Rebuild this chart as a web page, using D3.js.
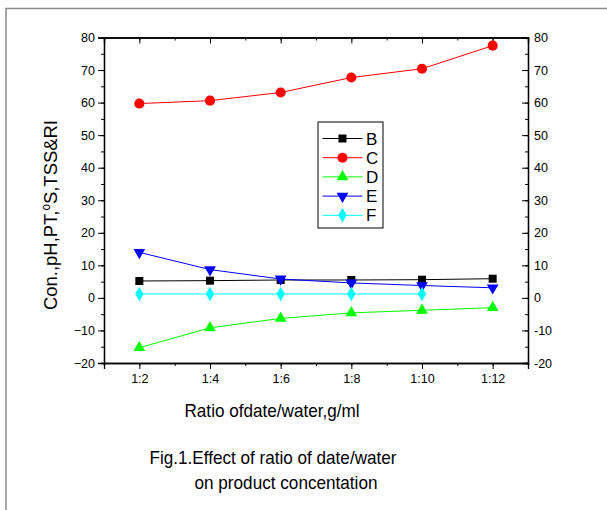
<!DOCTYPE html>
<html lang="en">
<head>
<meta charset="UTF-8">
<title>Effect of ratio of date/water</title>
<script src="https://cdn.jsdelivr.net/npm/d3@7/dist/d3.min.js"></script>
<style>
  body { margin: 0; background: #fff; }
  text { font-family: "Liberation Sans", Arial, sans-serif; fill: #000; }
</style>
</head>
<body>
<svg id="chart" width="607" height="510"></svg>
<script>
// data
var ratios = ["1:2", "1:4", "1:6", "1:8", "1:10", "1:12"];
var xPos = [2, 4, 6, 8, 10, 12];
var seriesB = [5.2, 5.3, 5.5, 5.5, 5.6, 5.9];
var seriesC = [59.7, 60.6, 63.1, 67.7, 70.4, 77.5];
var seriesD = [-15.3, -9.2, -6.3, -4.6, -3.8, -3.0];
var seriesE = [14.0, 8.7, 5.8, 4.6, 3.8, 3.1];
var seriesF = [1.2, 1.2, 1.2, 1.2, 1.2];
var yTicks = [-20, -10, 0, 10, 20, 30, 40, 50, 60, 70, 80];

var series = [
  {name: "B", values: seriesB, color: "#000000", sym: d3.symbolSquare, size: 64, rot: 0},
  {name: "C", values: seriesC, color: "#ff0000", sym: d3.symbolCircle, size: 80, rot: 0},
  {name: "D", values: seriesD, color: "#00ff00", sym: d3.symbolTriangle, size: 60, rot: 0},
  {name: "E", values: seriesE, color: "#0000ff", sym: d3.symbolTriangle, size: 60, rot: 180},
  {name: "F", values: seriesF, color: "#00ffff", sym: d3.symbolDiamond, size: 60, rot: 0}
];

var svg = d3.select("#chart");
var pLeft = 104, pRight = 528, pTop = 37.5, pBottom = 363;

// frame
svg.append("path").attr("d", "M6,510V8.5H607").attr("fill", "none")
  .attr("stroke", "#888").attr("stroke-width", 1.5);

var x = d3.scaleLinear().domain([1, 13]).range([pLeft, pRight]);
var y = d3.scaleLinear().domain([-20, 80]).range([pBottom, pTop]);

var minorX = d3.range(2, 13);
var minorY = d3.range(-20, 81, 5);

// left axis
svg.append("g").attr("transform", "translate(" + pLeft + ",0)")
  .call(d3.axisLeft(y).tickValues(minorY).tickSize(3).tickFormat(""));
svg.append("g").attr("transform", "translate(" + pLeft + ",0)")
  .call(d3.axisLeft(y).tickValues(yTicks).tickSize(6).tickPadding(3))
  .selectAll("text").style("font-size", "12.5px");
// right axis, ticks inward
svg.append("g").attr("transform", "translate(" + pRight + ",0)")
  .call(d3.axisLeft(y).tickValues(minorY).tickSize(3).tickFormat(""));
var ra = svg.append("g").attr("transform", "translate(" + pRight + ",0)")
  .call(d3.axisLeft(y).tickValues(yTicks).tickSize(6).tickFormat(""));
ra.selectAll(".tick").append("text")
  .attr("x", 6).attr("dy", "0.32em").attr("text-anchor", "start")
  .style("font-size", "12.5px").text(function(d) { return d; });
// bottom axis
svg.append("g").attr("transform", "translate(0," + pBottom + ")")
  .call(d3.axisBottom(x).tickValues(minorX).tickSize(3).tickFormat(""));
svg.append("g").attr("transform", "translate(0," + pBottom + ")")
  .call(d3.axisBottom(x).tickValues(xPos).tickSize(6).tickPadding(5)
    .tickFormat(function(d, i) { return ratios[i]; }))
  .selectAll("text").style("font-size", "12.5px");
// top axis, ticks inward
svg.append("g").attr("transform", "translate(0," + pTop + ")")
  .call(d3.axisBottom(x).tickValues(minorX).tickSize(3).tickFormat(""));
svg.append("g").attr("transform", "translate(0," + pTop + ")")
  .call(d3.axisBottom(x).tickValues(xPos).tickSize(6).tickFormat(""));
svg.selectAll(".domain").attr("stroke", "#000").attr("stroke-width", 1.3);
svg.selectAll(".tick line").attr("stroke", "#000");

// lines and markers
var line = d3.line().x(function(d, i) { return x(xPos[i]); }).y(function(d) { return y(d); });
series.forEach(function(s) {
  svg.append("path").datum(s.values).attr("d", line)
    .attr("fill", "none").attr("stroke", s.color).attr("stroke-width", 1);
  svg.selectAll(null).data(s.values).enter().append("path")
    .attr("d", d3.symbol().type(s.sym).size(s.size))
    .attr("transform", function(d, i) {
      return "translate(" + x(xPos[i]) + "," + y(d) + ") rotate(" + s.rot + ")";
    })
    .attr("fill", s.color);
});

// legend
var lg = svg.append("g").attr("transform", "translate(318,122)");
lg.append("rect").attr("width", 65).attr("height", 106)
  .attr("fill", "#fff").attr("stroke", "#000").attr("stroke-width", 1);
series.forEach(function(s, i) {
  var yy = 16.5 + i * 19.2;
  lg.append("line").attr("x1", 4.5).attr("x2", 44.5).attr("y1", yy).attr("y2", yy)
    .attr("stroke", s.color).attr("stroke-width", 1);
  lg.append("path").attr("d", d3.symbol().type(s.sym).size(s.size))
    .attr("transform", "translate(24.5," + yy + ") rotate(" + s.rot + ")")
    .attr("fill", s.color);
  lg.append("text").attr("x", 48).attr("y", yy).attr("dy", "0.36em")
    .style("font-size", "17px").text(s.name);
});

// titles
svg.append("text").attr("transform", "translate(57,215) rotate(-90)")
  .attr("text-anchor", "middle").style("font-size", "19px")
  .attr("textLength", 190).attr("lengthAdjust", "spacingAndGlyphs")
  .html('Con.,pH,PT,<tspan dy="-7" style="font-size:12px">o</tspan><tspan dy="7">S,TSS&amp;RI</tspan>');
svg.append("text").attr("x", 272).attr("y", 417).attr("text-anchor", "middle")
  .style("font-size", "19px").attr("textLength", 175).attr("lengthAdjust", "spacingAndGlyphs")
  .text("Ratio ofdate/water,g/ml");
svg.append("text").attr("x", 273).attr("y", 464).attr("text-anchor", "middle")
  .style("font-size", "19px").attr("textLength", 247).attr("lengthAdjust", "spacingAndGlyphs")
  .text("Fig.1.Effect of ratio of date/water");
svg.append("text").attr("x", 286).attr("y", 489).attr("text-anchor", "middle")
  .style("font-size", "19px").attr("textLength", 183).attr("lengthAdjust", "spacingAndGlyphs")
  .text("on product concentation");
</script>
</body>
</html>
